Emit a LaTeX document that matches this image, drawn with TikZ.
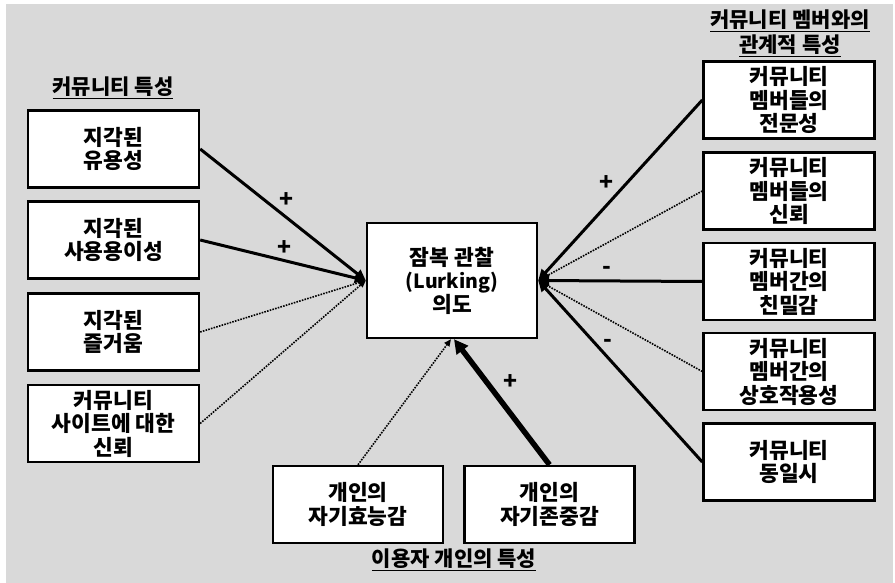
\documentclass[tikz,border=0pt]{standalone}
\usepackage{fontspec}
\usetikzlibrary{arrows.meta}
\newfontfamily\kr{Noto Sans CJK KR}
\definecolor{bggray}{RGB}{217,217,217}
\tikzset{
  box/.style={draw=black, line width=2.4pt, fill=white, minimum width=171pt, minimum height=77pt,
    align=center, font=\kr\bfseries\fontsize{21.5pt}{23.5pt}\selectfont, inner sep=0pt},
  solidarrow/.style={line width=3pt, -{Triangle[length=11pt,width=10pt]}},
  thickarrow/.style={line width=5.5pt, -{Triangle[length=14pt,width=14pt]}},
  dotarrow/.style={line width=1.6pt, dash pattern=on 1.6pt off 1.2pt, -{Triangle[length=7pt,width=6pt]}},
  title/.style={font=\kr\bfseries\fontsize{21pt}{24pt}\selectfont, align=center, inner sep=0pt},
  sign/.style={font=\kr\bfseries\fontsize{23pt}{24pt}\selectfont, inner sep=0pt}
}
\begin{document}
\begin{tikzpicture}[x=1pt,y=-1pt]
\useasboundingbox (0,0) rectangle (895,583);
\fill[bggray] (6,4) rectangle (893,583);

% left column
\node[box] (l1) at (113.5,149) {지각된\\유용성};
\node[box] (l2) at (113.5,240) {지각된\\사용용이성};
\node[box] (l3) at (113.5,332) {지각된\\즐거움};
\node[box] (l4) at (113.5,423.5) {커뮤니티\\사이트에 대한\\신뢰};
\node[title] (tl) at (113,88) {\underline{커뮤니티 특성}};

% center
\node[box, minimum width=170pt, minimum height=115pt] (c) at (452,280.5) {잠복 관찰\\{\fontsize{19.5pt}{23.5pt}\selectfont(Lurking)}\\의도};

% bottom
\node[box, minimum width=170pt] (b1) at (358,504.5) {개인의\\자기효능감};
\node[box, minimum width=170pt] (b2) at (549.5,504.5) {개인의\\자기존중감};
\node[title] (tb) at (454,560) {\underline{이용자 개인의 특성}};

% right column
\node[box] (r1) at (789,100) {커뮤니티\\멤버들의\\전문성};
\node[box] (r2) at (789,191) {커뮤니티\\멤버들의\\신뢰};
\node[box] (r3) at (789,281.5) {커뮤니티\\멤버간의\\친밀감};
\node[box] (r4) at (789,371.5) {커뮤니티\\멤버간의\\상호작용성};
\node[box] (r5) at (789,462) {커뮤니티\\동일시};
\node[title] (tr1) at (790,21) {\underline{커뮤니티 멤버와의}};
\node[title] (tr2) at (790,46) {\underline{관계적 특성}};

% convergence points
\coordinate (cl) at (c.west);
\coordinate (cr) at (c.east);
\coordinate (cb1) at ([xshift=-1pt]c.south);
\coordinate (cb2) at ([xshift=2pt]c.south);

% arrows
\draw[solidarrow] (l1.east) -- (cl);
\draw[solidarrow] (l2.east) -- (cl);
\draw[dotarrow] (l3.east) -- (cl);
\draw[dotarrow] (l4.east) -- (cl);

\draw[solidarrow] (r1.west) -- (cr);
\draw[dotarrow] (r2.west) -- (cr);
\draw[solidarrow] (r3.west) -- (cr);
\draw[dotarrow] (r4.west) -- (cr);
\draw[solidarrow] (r5.west) -- (cr);

\draw[dotarrow] (b1.north) -- (cb1);
\draw[thickarrow] (b2.north) -- (cb2);

% signs
\node[sign] (s1) at (287,200) {+};
\node[sign] (s2) at (285,248) {+};
\node[sign] (s3) at (606,183) {+};
\node[sign] (s4) at (607,270) {-};
\node[sign] (s5) at (608,343) {-};
\node[sign] (s6) at (510,382) {+};
\end{tikzpicture}
\end{document}
